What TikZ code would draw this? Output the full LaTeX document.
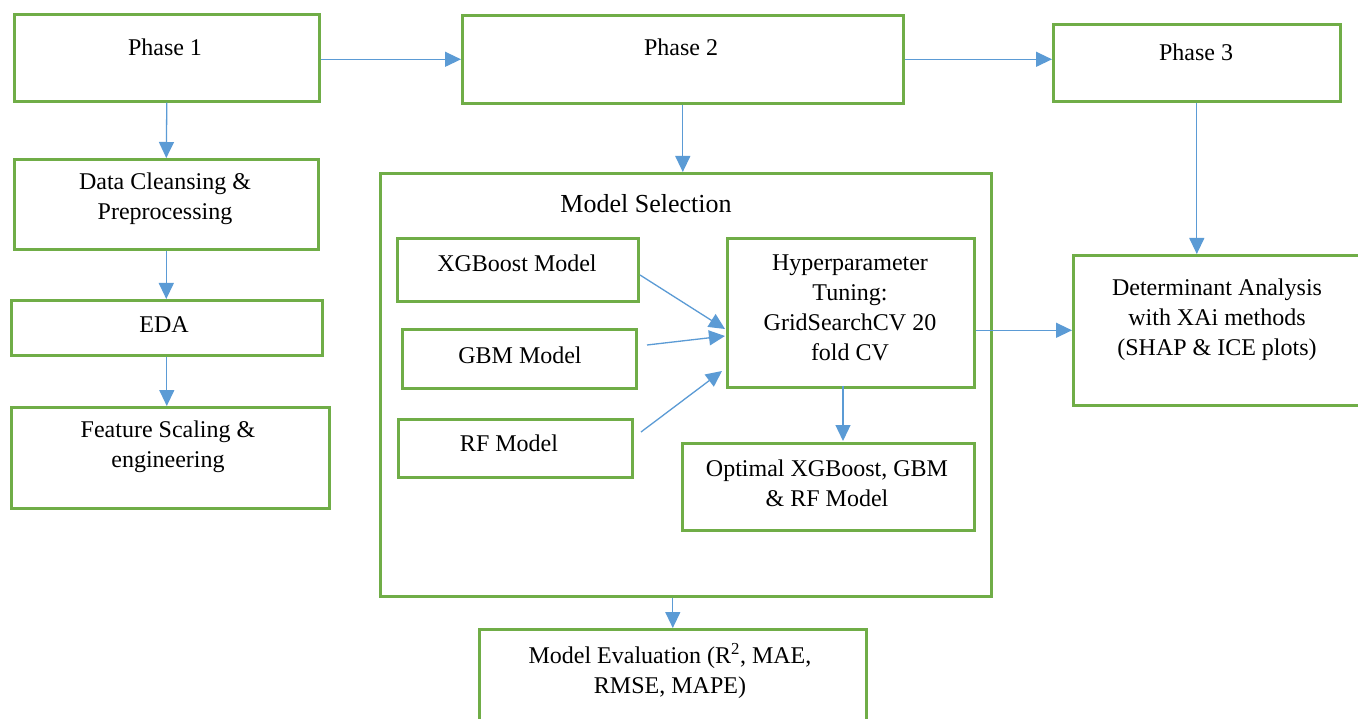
\documentclass[tikz,border=0pt]{standalone}
\usepackage{fontspec}
\setmainfont{Liberation Serif}
\usetikzlibrary{arrows.meta}
\definecolor{boxgreen}{HTML}{70AD47}
\definecolor{arrblue}{HTML}{5B9BD5}
\begin{document}
\begin{tikzpicture}[x=1pt,y=-1pt,
  box/.style={draw=boxgreen,line width=2.6pt,rectangle,inner sep=0pt,anchor=north west},
  txt/.style={align=center,font=\fontsize{24}{30}\selectfont,inner sep=0pt},
  arr/.style={draw=arrblue,line width=1.3pt,-{Triangle[length=16pt,width=15pt]}}]
\useasboundingbox (0,0) rectangle (1358,719);
\clip (0,0) rectangle (1358,719);
\fill[white] (0,0) rectangle (1358,719);
% boxes
\node[box,minimum width=305pt,minimum height=87pt] (p1) at (13,13) {};
\node[box,minimum width=441pt,minimum height=88pt] (p2) at (461,14) {};
\node[box,minimum width=287pt,minimum height=77pt] (p3) at (1052,23) {};
\node[box,minimum width=304pt,minimum height=90pt] (dc) at (13,158) {};
\node[box,minimum width=311pt,minimum height=55pt] (eda) at (10,299) {};
\node[box,minimum width=318pt,minimum height=101pt] (fs) at (10,406) {};
\node[box,minimum width=611pt,minimum height=423pt] (ms) at (379,172) {};
\node[box,minimum width=241pt,minimum height=63pt] (xgb) at (396,237) {};
\node[box,minimum width=234pt,minimum height=59pt] (gbm) at (401,328) {};
\node[box,minimum width=234pt,minimum height=58pt] (rf) at (397,418) {};
\node[box,minimum width=247pt,minimum height=149pt] (hyp) at (726,237) {};
\node[box,minimum width=292pt,minimum height=87pt] (opt) at (681,442) {};
\node[box,minimum width=310pt,minimum height=150pt] (det) at (1072,254) {};
\node[box,minimum width=387pt,minimum height=110pt] (me) at (478,628) {};
% texts
\node[txt] (tp1) at (165,47) {Phase 1};
\node[txt] (tp2) at (681,47) {Phase 2};
\node[txt] (tp3) at (1196,52) {Phase 3};
\node[txt] (tdc) at (165,199) {Data Cleansing \&\\Preprocessing};
\node[txt] (teda) at (164,325) {EDA};
\node[txt] (tfs) at (168,447) {Feature Scaling \&\\engineering};
\node[txt,font=\fontsize{26}{30}\selectfont] (tms) at (646,204) {Model Selection};
\node[txt] (txgb) at (517,263) {XGBoost Model};
\node[txt] (tgbm) at (520,355) {GBM Model};
\node[txt] (trf) at (509,443) {RF Model};
\node[txt] (thyp) at (850,308) {Hyperparameter\\Tuning:\\GridSearchCV 20\\fold CV};
\node[txt] (topt) at (827,483) {Optimal XGBoost, GBM\\\& RF Model};
\node[txt] (tdet) at (1217,320) {Determinant Analysis\\with XAi methods\\(SHAP \& ICE plots)};
\node[txt] (tme) at (670,671) {Model Evaluation (R\textsuperscript{2}, MAE,\\RMSE, MAPE)};
% coordinates
\coordinate (xs) at (640,275);
\coordinate (xe) at (725,329);
\coordinate (gs) at (647,345);
\coordinate (ge) at (725,336);
\coordinate (rs) at (641,432);
\coordinate (re) at (722,371);
\coordinate (hs) at (843,386);
\coordinate (oe) at (843,441);
% connectors
\draw[arr] (p1.east |- p2.west) -- (p2.west);
\draw[arr] (p2.east) -- (p2.east -| p3.west);
\draw[arr] (p1.south) -- (dc.north);
\draw[arr] (dc.south) -- (dc.south |- eda.north);
\draw[arr] (eda.south) -- (eda.south |- fs.north);
\draw[arr] (p2.south) -- (p2.south |- ms.north);
\draw[arr] (p3.south) -- (p3.south |- det.north);
\draw[arr] (xs) -- (xe);
\draw[arr] (gs) -- (ge);
\draw[arr] (rs) -- (re);
\draw[arr] (hs) -- (oe);
\draw[arr] (hyp.east |- det.west) -- (det.west);
\draw[arr] (me.north |- ms.south) -- (me.north);
\end{tikzpicture}
\end{document}
